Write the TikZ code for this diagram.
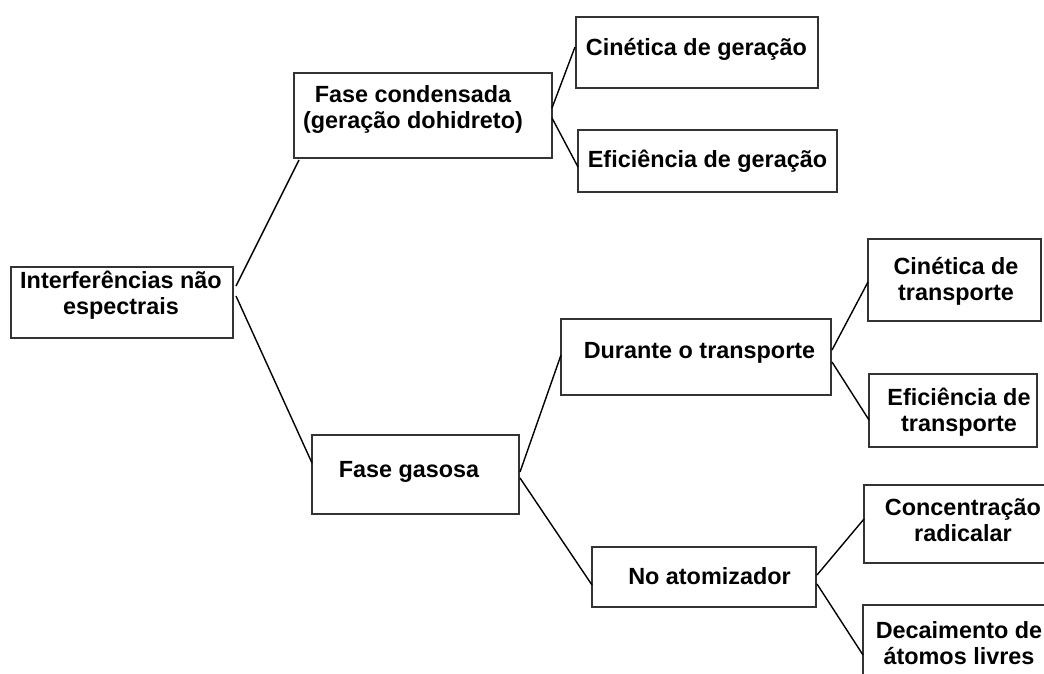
\documentclass[tikz,border=0pt]{standalone}
\usepackage{fontspec}
\setmainfont{Liberation Sans}
\begin{document}
\begin{tikzpicture}[x=1pt,y=-1pt,
  boxn/.style={draw=black!80,line width=1.2pt,rectangle,inner sep=0pt,outer sep=0pt},
  lbl/.style={inner sep=0pt,align=center,font=\fontsize{23.4}{26}\selectfont\bfseries},
  conn/.style={draw=black,line width=1.4pt}]
\useasboundingbox[fill=white] (0,0) rectangle (1044,674);
% boxes
\node[boxn,minimum width=222pt,minimum height=71pt] (interf) at (122,302.5) {};
\node[boxn,minimum width=258pt,minimum height=85pt] (fcond) at (423,115.5) {};
\node[boxn,minimum width=242pt,minimum height=71pt] (cger) at (697,52.5) {};
\node[boxn,minimum width=259pt,minimum height=62pt] (eger) at (707.5,161) {};
\node[boxn,minimum width=207pt,minimum height=79pt] (fgas) at (415.5,474.5) {};
\node[boxn,minimum width=270pt,minimum height=76pt] (durante) at (696,357) {};
\node[boxn,minimum width=224pt,minimum height=60pt] (noat) at (704,577) {};
\node[boxn,minimum width=173pt,minimum height=82pt] (ctrans) at (954.5,280) {};
\node[boxn,minimum width=168pt,minimum height=73pt] (etrans) at (953,410.5) {};
\node[boxn,minimum width=186pt,minimum height=78pt] (conc) at (957,524) {};
\node[boxn,minimum width=187pt,minimum height=85pt] (dec) at (956.5,647.5) {};
% texts
\node[lbl] (interf-t) at (121,295.5) {Interferências não\\espectrais};
\node[lbl] (fcond-t) at (413,110) {Fase condensada\\(geração dohidreto)};
\node[lbl] (cger-t) at (696.5,49) {Cinética de geração};
\node[lbl] (eger-t) at (707.5,161) {Eficiência de geração};
\node[lbl] (fgas-t) at (409,472) {Fase gasosa};
\node[lbl] (durante-t) at (699.5,353) {Durante o transporte};
\node[lbl] (noat-t) at (709.5,576) {No atomizador};
\node[lbl] (ctrans-t) at (956,281) {Cinética de\\transporte};
\node[lbl] (etrans-t) at (959,412) {Eficiência de\\transporte};
\node[lbl] (conc-t) at (963,520) {Concentração\\radicalar};
\node[lbl] (dec-t) at (959,643.5) {Decaimento de\\átomos livres};
% connectors
\draw[conn] ([shift={(3,-16.5)}]interf.east) -- ([shift={(5,2)}]fcond.south west);
\draw[conn] ([shift={(3,-6.5)}]interf.east) -- ([shift={(0,-11.5)}]fgas.west);
\draw[conn] ([shift={(0,-7.5)}]fcond.east) -- ([shift={(-1,-5.5)}]cger.west);
\draw[conn] ([shift={(0,2.5)}]fcond.east) -- ([shift={(0,6)}]eger.west);
\draw[conn] ([shift={(1,-2.5)}]fgas.east) -- ([shift={(0,-2)}]durante.west);
\draw[conn] ([shift={(1,3.5)}]fgas.east) -- ([shift={(0,8)}]noat.west);
\draw[conn] ([shift={(1,-7)}]durante.east) -- ([shift={(0,2)}]ctrans.west);
\draw[conn] ([shift={(1,5)}]durante.east) -- ([shift={(0,9.5)}]etrans.west);
\draw[conn] ([shift={(1,-2)}]noat.east) -- ([shift={(0,-5)}]conc.west);
\draw[conn] ([shift={(1,7)}]noat.east) -- ([shift={(0,7.5)}]dec.west);
\end{tikzpicture}
\end{document}
